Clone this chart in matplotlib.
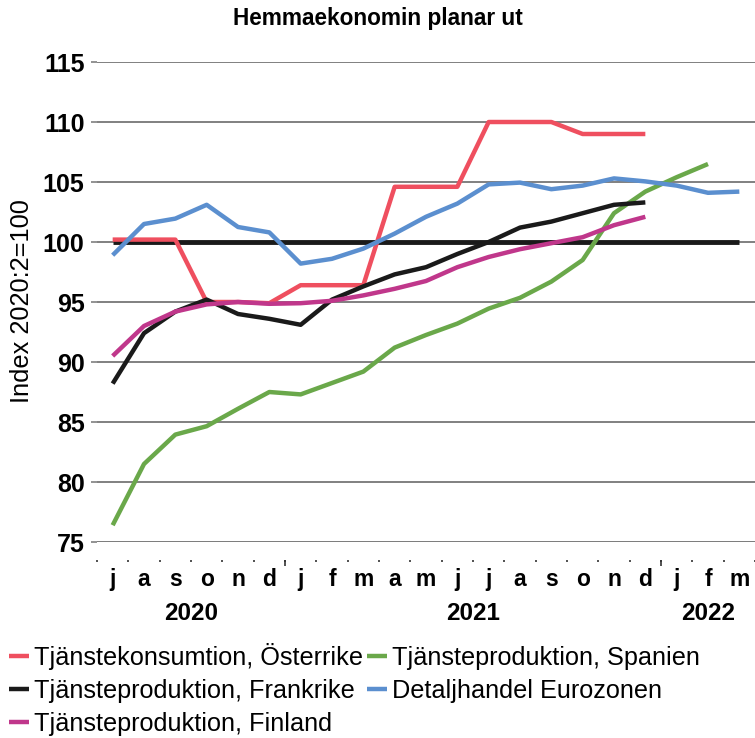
import matplotlib.pyplot as plt
import numpy as np

plt.rcParams['font.family'] = ['Liberation Sans', 'DejaVu Sans']

months = ['j', 'a', 's', 'o', 'n', 'd',
          'j', 'f', 'm', 'a', 'm', 'j', 'j', 'a', 's', 'o', 'n', 'd',
          'j', 'f', 'm']
years = ['2020', '2021', '2022']
year_centers = [2.5, 11.5, 19.0]
year_bounds = [5.5, 17.5]

baseline = [100] * 21
osterrike = [100.2, 100.2, 100.2, 95.0, 95.0, 94.9, 96.4, 96.4, 96.4, 104.6, 104.6,
             104.6, 110.0, 110.0, 110.0, 109.0, 109.0, 109.0]
frankrike = [88.2, 92.4, 94.2, 95.2, 94.0, 93.6, 93.1, 95.2, 96.3, 97.3, 97.9,
             99.0, 100.0, 101.2, 101.7, 102.4, 103.1, 103.3]
finland = [90.5, 93.0, 94.2, 94.8, 95.0, 94.85, 94.9, 95.1, 95.55, 96.1, 96.75,
           97.9, 98.75, 99.4, 99.9, 100.4, 101.4, 102.1]
spanien = [76.4, 81.5, 83.95, 84.65, 86.1, 87.5, 87.3, 88.25, 89.2, 91.2, 92.25,
           93.2, 94.45, 95.35, 96.7, 98.5, 102.4, 104.2, 105.4, 106.5]
eurozon = [98.9, 101.5, 101.95, 103.1, 101.25, 100.8, 98.2, 98.6, 99.45, 100.7, 102.1,
           103.2, 104.8, 104.95, 104.4, 104.7, 105.3, 105.05, 104.7, 104.1, 104.2]

fig = plt.figure(figsize=(7.55, 7.38), dpi=100)
ax = fig.add_axes([97 / 755, 1 - 542 / 738, 658 / 755, 480 / 738])

lw = 3.2
ax.plot(np.arange(len(baseline)), baseline, color='#1a1a1a', lw=3.5, solid_capstyle='butt')
l1, = ax.plot(np.arange(len(osterrike)), osterrike, color='#ef4f5f', lw=lw,
              label='Tjänstekonsumtion, Österrike', solid_capstyle='butt')
l4, = ax.plot(np.arange(len(spanien)), spanien, color='#6aa84a', lw=lw,
              label='Tjänsteproduktion, Spanien', solid_capstyle='butt')
l2, = ax.plot(np.arange(len(frankrike)), frankrike, color='#1a1a1a', lw=lw,
              label='Tjänsteproduktion, Frankrike', solid_capstyle='butt')
l5, = ax.plot(np.arange(len(eurozon)), eurozon, color='#5b8fcf', lw=lw,
              label='Detaljhandel Eurozonen', solid_capstyle='butt')
l3, = ax.plot(np.arange(len(finland)), finland, color='#c0378b', lw=lw,
              label='Tjänsteproduktion, Finland', solid_capstyle='butt')

ax.set_xlim(-0.5, 20.5)
ax.set_ylim(75, 115)
ax.set_yticks(np.arange(75, 116, 5))
ax.yaxis.grid(True, color='#808080', lw=1.4)
ax.set_axisbelow(True)
ax.axhline(75, color='#555555', lw=1.4, zorder=0.5)
for s in ax.spines.values():
    s.set_visible(False)

ax.tick_params(axis='y', length=4, width=1.2, color='#808080', pad=5, labelsize=18)
for t in ax.get_yticklabels():
    t.set_fontweight('bold')

# x axis: small ticks at month boundaries, sitting a bit below the plot
ax.spines['bottom'].set_position(('outward', 13))
ax.set_xticks(np.arange(-0.5, 21, 1.0))
ax.set_xticklabels([])
ax.tick_params(axis='x', which='major', length=1.5, width=1.2, color='#333333')
ax.set_xticks(np.arange(len(months)), minor=True)
ax.set_xticklabels(months, minor=True, fontsize=16.5, fontweight='bold')
ax.tick_params(axis='x', which='minor', length=0, pad=6)

sec = ax.secondary_xaxis(-13 * 1.389 / 480)
sec.set_xticks(year_bounds)
sec.set_xticklabels([])
sec.tick_params(length=4, width=1.2, color='#333333')
sec.spines['bottom'].set_visible(False)

for yr, xc in zip(years, year_centers):
    ax.text(xc, -0.149, yr, transform=ax.get_xaxis_transform(), ha='center', va='center',
            fontsize=17.5, fontweight='bold')

fig.text(0.5, 1 - 19 / 738, 'Hemmaekonomin planar ut', ha='center', va='center',
         fontsize=16.3, fontweight='bold')
fig.text(22 / 755, 1 - 301 / 738, 'Index 2020:2=100', rotation=90, ha='center', va='center',
         fontsize=18.3)

fig.legend(handles=[l1, l2, l3, l4, l5], loc='upper left', bbox_to_anchor=(0.012, 1 - 643 / 738),
           ncol=2, frameon=False, fontsize=18.2, handlelength=0.8, handletextpad=0.2,
           columnspacing=0.15, labelspacing=0.36, borderpad=0, borderaxespad=0)

fig.savefig('out.png', dpi=100)
